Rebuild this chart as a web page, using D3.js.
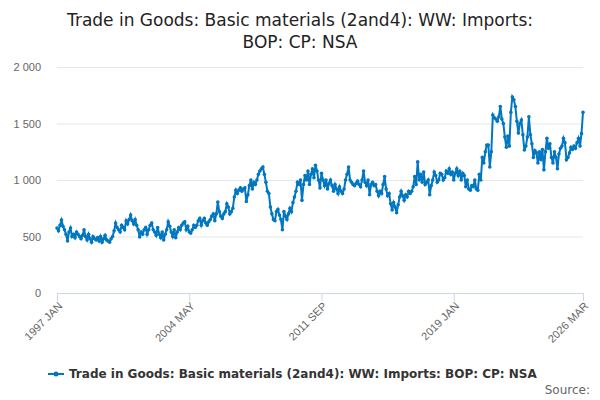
<!DOCTYPE html>
<html><head><meta charset="utf-8">
<script src="https://cdn.jsdelivr.net/npm/d3@7"></script>
<style>body{margin:0;background:#fff;font-family:"DejaVu Sans",sans-serif}</style>
</head><body><svg id="chart" width="600" height="400"></svg>
<script>
const START_YEAR = 1997;
// monthly values per year, Jan..Dec (2026 only Jan..Mar)
const Y1997 = [575,550,600,645,590,560,520,460,540,575,500,520];
const Y1998 = [490,540,520,500,480,510,560,500,470,520,480,450];
const Y1999 = [500,480,470,490,460,500,450,480,510,470,460,450];
const Y2000 = [480,500,550,620,580,560,540,600,580,560,640,610];
const Y2001 = [650,690,640,610,650,600,560,495,540,520,560,580];
const Y2002 = [520,560,600,620,560,540,510,580,520,490,540,470];
const Y2003 = [520,560,630,590,540,500,560,490,540,580,560,600];
const Y2004 = [620,630,560,590,540,530,560,600,580,600,640,660];
const Y2005 = [600,640,660,620,600,630,650,680,700,640,700,805];
const Y2006 = [720,680,660,700,720,790,760,700,720,750,850,910];
const Y2007 = [880,910,930,900,920,930,810,870,950,1000,920,980];
const Y2008 = [960,1000,1050,1080,1100,1115,1050,980,900,880,760,700];
const Y2009 = [650,640,720,740,690,650,560,720,680,650,700,750];
const Y2010 = [720,800,850,900,980,960,1000,820,960,1040,1000,1080];
const Y2011 = [960,1050,1100,1020,1130,1080,1000,930,1060,1000,950,1000];
const Y2012 = [920,970,1000,950,900,960,920,880,940,900,880,920];
const Y2013 = [1000,1050,1115,1000,980,960,950,970,990,960,940,1000];
const Y2014 = [1080,980,950,1000,870,960,980,950,960,900,860,900];
const Y2015 = [880,960,1030,920,860,880,790,735,800,760,710,780];
const Y2016 = [850,900,860,820,870,850,900,880,900,940,1030,960];
const Y2017 = [1160,1000,1050,980,1070,960,980,1000,870,950,1000,1070];
const Y2018 = [1040,980,1000,1060,1050,1000,1020,1080,1060,1100,1050,1070];
const Y2019 = [1000,1060,1100,1040,1080,1000,1060,1040,940,1000,920,910];
const Y2020 = [950,940,1000,920,910,1050,1000,1200,1150,1250,1310,1310];
const Y2021 = [1115,1250,1575,1550,1540,1520,1560,1650,1540,1500,1380,1290];
const Y2022 = [1390,1300,1600,1735,1710,1650,1520,1415,1500,1530,1400,1265];
const Y2023 = [1300,1380,1560,1400,1320,1200,1260,1240,1150,1250,1180,1270];
const Y2024 = [1090,1250,1370,1280,1320,1200,1150,1250,1200,1100,1230,1280];
const Y2025 = [1300,1370,1330,1180,1200,1240,1290,1270,1300,1280,1330,1370];
const Y2026 = [1300,1410,1600];
const YEARS = [Y1997,Y1998,Y1999,Y2000,Y2001,Y2002,Y2003,Y2004,Y2005,Y2006,Y2007,Y2008,Y2009,Y2010,
  Y2011,Y2012,Y2013,Y2014,Y2015,Y2016,Y2017,Y2018,Y2019,Y2020,Y2021,Y2022,Y2023,Y2024,Y2025,Y2026];
const X_TICKS = ["1997 JAN","2004 MAY","2011 SEP","2019 JAN","2026 MAR"];
const Y_TICKS = [0,500,1000,1500,2000];
const MONTHS = ["JAN","FEB","MAR","APR","MAY","JUN","JUL","AUG","SEP","OCT","NOV","DEC"];
const SERIES = "Trade in Goods: Basic materials (2and4): WW: Imports: BOP: CP: NSA";

const data = [];
YEARS.forEach((vals, yi) => vals.forEach((v, mi) => {
    data.push({label: (START_YEAR + yi) + " " + MONTHS[mi], value: v});
}));

const svg = d3.select('#chart');
const color = '#0077c0';
const m = {left: 57, right: 583, top: 67, bottom: 293};

const x = d3.scaleLinear().domain([0, data.length - 1]).range([m.left, m.right]);
const y = d3.scaleLinear().domain([0, 2000]).range([m.bottom, m.top]);

svg.append('text').attr('x', 300).attr('y', 26).attr('text-anchor', 'middle')
    .attr('font-size', 17).attr('fill', '#222').text("Trade in Goods: Basic materials (2and4): WW: Imports:");
svg.append('text').attr('x', 300).attr('y', 48).attr('text-anchor', 'middle')
    .attr('font-size', 17).attr('fill', '#222').text("BOP: CP: NSA");

// grid + y labels
const yAxis = svg.append('g').attr('transform', `translate(${m.left},0)`)
    .call(d3.axisLeft(y).tickValues(Y_TICKS).tickSize(-(m.right - m.left))
        .tickFormat(d => d3.format(',')(d).replace(',', ' ')));
yAxis.select('.domain').remove();
yAxis.selectAll('line').attr('stroke', '#e6e6e6');
yAxis.selectAll('text').attr('fill', '#666').attr('font-size', 11).attr('x', -16);

// x axis
const tickIdx = X_TICKS.map(t => data.findIndex(d => d.label === t));
const xAxis = svg.append('g').attr('transform', `translate(0,${m.bottom})`)
    .call(d3.axisBottom(x).tickValues(tickIdx).tickSize(8).tickFormat(i => data[i].label));
xAxis.select('.domain').attr('stroke', '#ccd6eb');
xAxis.selectAll('line').attr('stroke', '#ccd6eb');
xAxis.selectAll('text').attr('fill', '#666').attr('font-size', 11)
    .attr('text-anchor', 'end').attr('x', 0).attr('y', 0).attr('dy', '0.35em')
    .attr('transform', 'translate(3,11) rotate(-45)');

const line = d3.line().x((d, i) => x(i)).y(d => y(d.value));
svg.append('path').datum(data).attr('d', line).attr('fill', 'none')
    .attr('stroke', color).attr('stroke-width', 2);
svg.append('g').selectAll('circle').data(data).join('circle')
    .attr('cx', (d, i) => x(i)).attr('cy', d => y(d.value)).attr('r', 1.8).attr('fill', color);

// legend
const lg = svg.append('g').attr('transform', 'translate(48,374)');
lg.append('line').attr('x1', 0).attr('x2', 16).attr('stroke', color).attr('stroke-width', 2);
lg.append('circle').attr('cx', 8).attr('r', 2.5).attr('fill', color);
lg.append('text').attr('x', 21).attr('y', 4).attr('font-size', 12).attr('font-weight', 'bold')
    .attr('fill', '#333').text(SERIES);
svg.append('text').attr('x', 590).attr('y', 394).attr('text-anchor', 'end')
    .attr('font-size', 12).attr('fill', '#666').text('Source:');
</script></body></html>
